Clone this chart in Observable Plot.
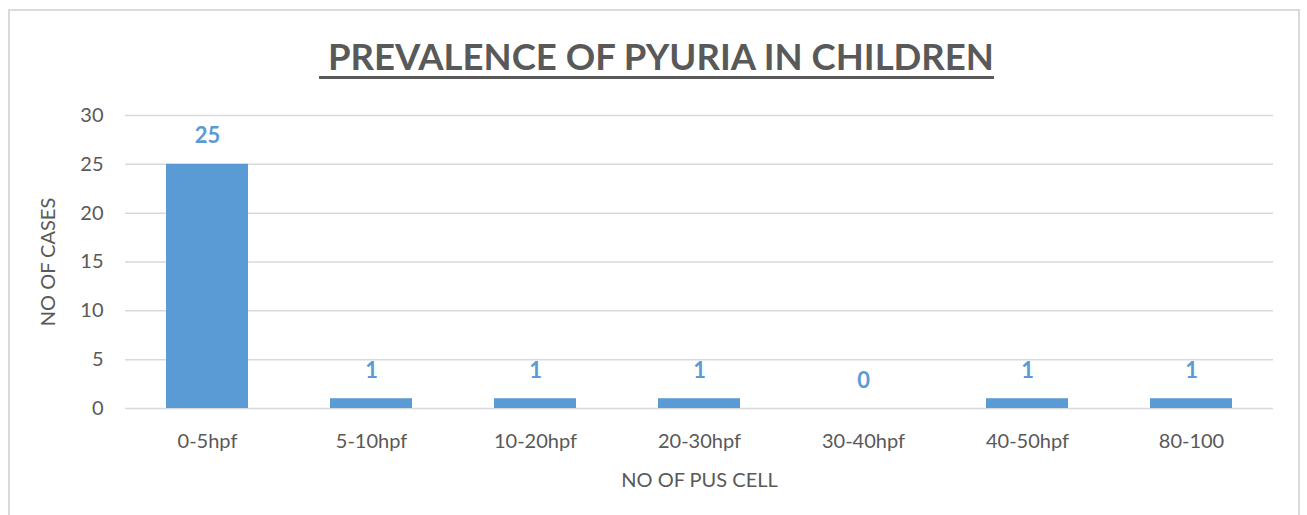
<!DOCTYPE html>
<html>
<head>
<meta charset="utf-8">
<script src="https://cdn.jsdelivr.net/npm/d3@7"></script>
<script src="https://cdn.jsdelivr.net/npm/@observablehq/plot@0.6"></script>
<style>
  html, body { margin: 0; padding: 0; background: #fff; }
  #frame { position: absolute; left: 8px; top: 9px; width: 1292px; height: 540px; border: 2px solid #d9d9d9; box-sizing: border-box; }
  #title { position: absolute; left: 0; width: 1307px; top: 34px; text-align: center; font-family: Lato, sans-serif; font-weight: bold; font-size: 36.5px; color: #595959; text-decoration: underline; text-decoration-thickness: 3px; text-underline-offset: 6px; white-space: pre; padding-left: 6px; box-sizing: border-box; }
  #chart { position: absolute; left: 0; top: 95px; }
</style>
</head>
<body>
<div id="frame"></div>
<div id="title"> PREVALENCE OF PYURIA IN CHILDREN</div>
<div id="chart"></div>
<script>
const categories = ["0-5hpf", "5-10hpf", "10-20hpf", "20-30hpf", "30-40hpf", "40-50hpf", "80-100"];
const cases = [25, 1, 1, 1, 0, 1, 1];
const yTicks = [0, 5, 10, 15, 20, 25, 30];

const data = categories.map((c, i) => ({category: c, value: cases[i]}));

const chart = Plot.plot({
  width: 1307,
  height: 420,
  marginTop: 20,
  marginBottom: 107,
  marginLeft: 125,
  marginRight: 34,
  style: { fontFamily: "Lato, sans-serif", color: "#595959", background: "transparent" },
  x: { domain: categories, padding: 0.5, paddingOuter: 0.25, align: 0.5 },
  y: { domain: [0, 30] },
  marks: [
    Plot.gridY(yTicks, { stroke: "#d9d9d9", strokeOpacity: 1, strokeWidth: 1.5 }),
    Plot.barY(data, { x: "category", y: "value", fill: "#5b9bd5",
      style: "filter: drop-shadow(0px 0px 5px rgba(0,0,0,0.2))" }),
    Plot.text(data, { x: "category", y: "value", text: d => String(d.value), dy: -28,
      fill: "#5b9bd5", fontWeight: "bold", fontSize: 22 }),
    Plot.axisY(yTicks, { tickSize: 0, tickPadding: 22, fontSize: 20, fill: "#595959",
      label: "NO OF CASES", labelAnchor: "center", labelArrow: "none", labelOffset: 85 }),
    Plot.axisX({ tickSize: 0, tickPadding: 25, fontSize: 20, fill: "#595959",
      label: "NO OF PUS CELL", labelAnchor: "center", labelArrow: "none", labelOffset: 78 })
  ]
});
chart.querySelectorAll('[aria-label="y-axis label"] text, [aria-label="x-axis label"] text').forEach(t => {
  t.setAttribute("font-size", "20");
  t.style.fontSize = "20px";
});
document.getElementById("chart").appendChild(chart);
</script>
</body>
</html>
